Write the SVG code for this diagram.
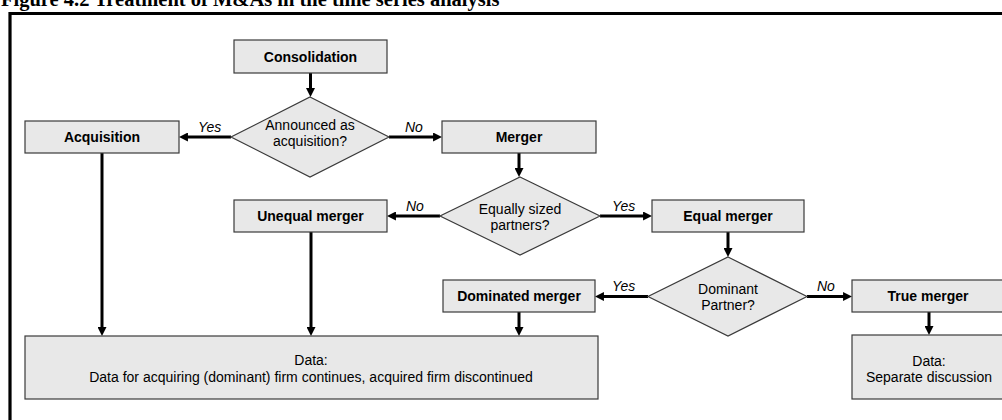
<svg xmlns="http://www.w3.org/2000/svg" width="1002" height="420" viewBox="0 0 1002 420">
<style>
.box{fill:#e8e8e8;stroke:#3a3a3a;stroke-width:1.2}
.lbl{font-family:"Liberation Sans",Arial,sans-serif;font-size:14px;fill:#000;text-anchor:middle}
.b{font-weight:bold}
.yn{font-family:"Liberation Sans",Arial,sans-serif;font-size:14px;font-style:italic;fill:#000}
.con{stroke:#000;stroke-width:3;fill:none;marker-end:url(#ah)}
</style>
<defs>
<marker id="ah" viewBox="0 0 10 10" refX="4.4" refY="5" markerWidth="9" markerHeight="9" markerUnits="userSpaceOnUse" orient="auto">
<path d="M0,0 L10,5 L0,10 z" fill="#000"/>
</marker>
</defs>
<rect width="1002" height="420" fill="#fff"/>
<text x="1" y="5.5" font-family="'Liberation Serif','Times New Roman',serif" font-size="20.5" font-weight="bold">Figure 4.2 Treatment of M&amp;As in the time series analysis</text>
<path d="M10,430 V13.5 H1010" fill="none" stroke="#000" stroke-width="3.2"/>

<g id="connectors">
<line class="con" x1="310.5" y1="73" x2="310.5" y2="92"/>
<line class="con" x1="231" y1="137" x2="184" y2="137"/>
<line class="con" x1="389" y1="137" x2="437" y2="137"/>
<line class="con" x1="519" y1="152" x2="519" y2="172"/>
<line class="con" x1="440" y1="216" x2="392" y2="216"/>
<line class="con" x1="600" y1="216" x2="647" y2="216"/>
<line class="con" x1="728" y1="232" x2="728" y2="252"/>
<line class="con" x1="648" y1="296.5" x2="600" y2="296.5"/>
<line class="con" x1="807" y1="296.5" x2="847" y2="296.5"/>
<line class="con" x1="929" y1="312" x2="929" y2="330"/>
<line class="con" x1="102" y1="153" x2="102" y2="331"/>
<line class="con" x1="311" y1="232" x2="311" y2="331"/>
<line class="con" x1="519" y1="312" x2="519" y2="331"/>
<text class="yn" x="198" y="132">Yes</text>
<text class="yn" x="405" y="132">No</text>
<text class="yn" x="406" y="211">No</text>
<text class="yn" x="612" y="211">Yes</text>
<text class="yn" x="612" y="291">Yes</text>
<text class="yn" x="817" y="291">No</text>
</g>

<g id="consolidation">
<rect class="box" x="234" y="40" width="153" height="33"/>
<text class="lbl b" x="310.5" y="61.5">Consolidation</text>
</g>
<g id="announced">
<polygon class="box" points="310,97 389,137 310,177 231,137"/>
<text class="lbl" x="310" y="130">Announced as</text>
<text class="lbl" x="310" y="146">acquisition?</text>
</g>
<g id="acquisition">
<rect class="box" x="25" y="121" width="154" height="32"/>
<text class="lbl b" x="102" y="142">Acquisition</text>
</g>
<g id="merger">
<rect class="box" x="442" y="121" width="154" height="32"/>
<text class="lbl b" x="519" y="142">Merger</text>
</g>
<g id="equally-sized">
<polygon class="box" points="520,177 600,216 520,255 440,216"/>
<text class="lbl" x="520" y="214">Equally sized</text>
<text class="lbl" x="520" y="230">partners?</text>
</g>
<g id="unequal-merger">
<rect class="box" x="234" y="200" width="153" height="32"/>
<text class="lbl b" x="310.5" y="221">Unequal merger</text>
</g>
<g id="equal-merger">
<rect class="box" x="652" y="200" width="152" height="32"/>
<text class="lbl b" x="728" y="221">Equal merger</text>
</g>
<g id="dominant-partner">
<polygon class="box" points="728,257 807,296.5 728,336 648,296.5"/>
<text class="lbl" x="728" y="294">Dominant</text>
<text class="lbl" x="728" y="310">Partner?</text>
</g>
<g id="dominated-merger">
<rect class="box" x="443" y="280" width="152" height="32"/>
<text class="lbl b" x="519" y="301">Dominated merger</text>
</g>
<g id="true-merger">
<rect class="box" x="852" y="280" width="152" height="32"/>
<text class="lbl b" x="928" y="301">True merger</text>
</g>
<g id="data-continues">
<rect class="box" x="25" y="336" width="573" height="63"/>
<text class="lbl" x="311" y="365">Data:</text>
<text class="lbl" x="311" y="382">Data for acquiring (dominant) firm continues, acquired firm discontinued</text>
</g>
<g id="data-separate">
<rect class="box" x="852" y="335" width="152" height="64"/>
<text class="lbl" x="929" y="366">Data:</text>
<text class="lbl" x="929" y="382">Separate discussion</text>
</g>
</svg>
